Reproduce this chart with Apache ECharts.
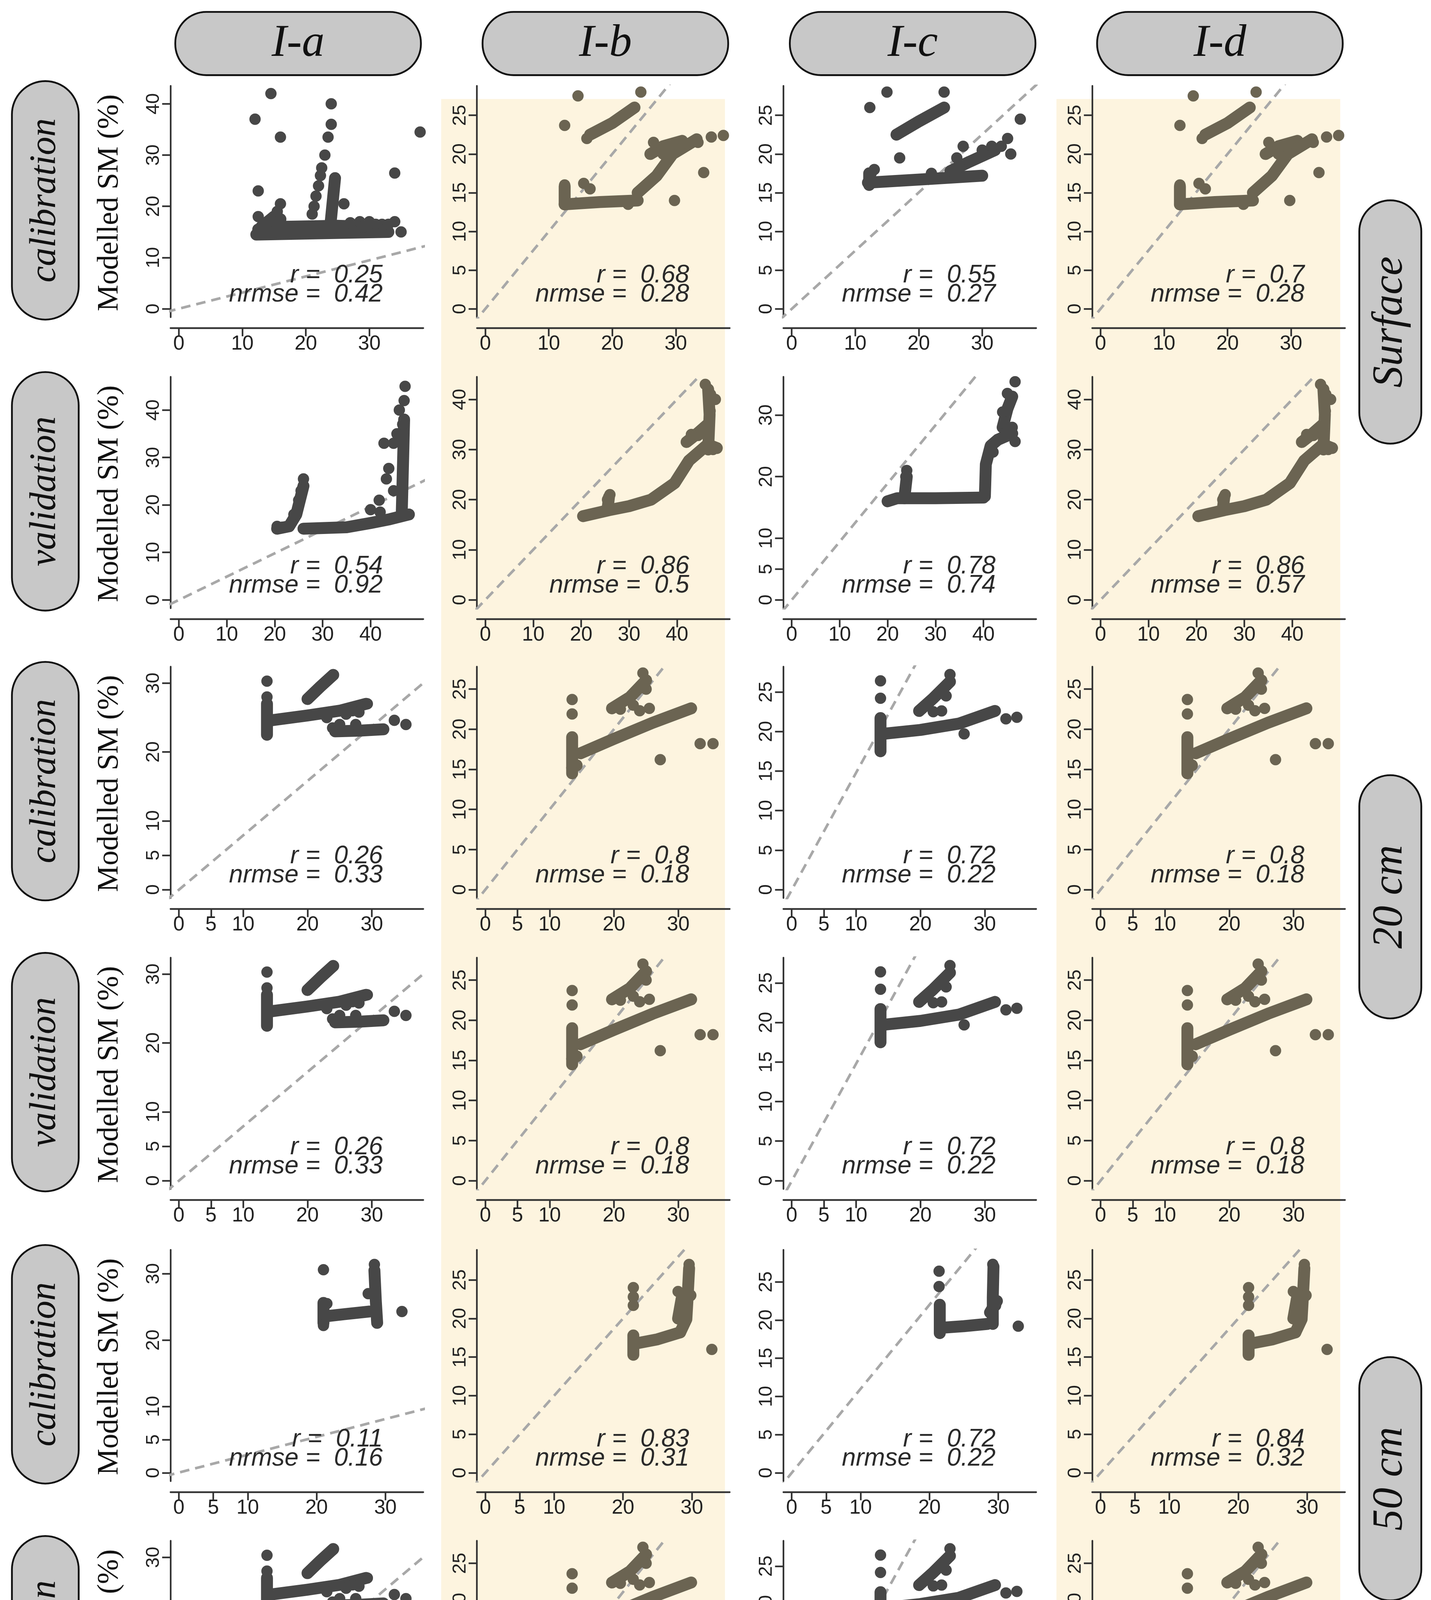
<!DOCTYPE html>
<html>
<head>
<meta charset="utf-8">
<script src="https://cdn.jsdelivr.net/npm/echarts@6/dist/echarts.min.js"></script>
<style>html,body{margin:0;padding:0;background:#fff}#main{width:3664px;height:4784px}</style>
</head>
<body>
<div id="main"></div>
<script>
// scale from the 1200px sketch units to the real canvas
var S = 3.053;

var colNames = ['I-a', 'I-b', 'I-c', 'I-d'];
var rowNames = ['calibration', 'validation', 'calibration', 'validation', 'calibration', 'validation'];
var depthNames = ['Surface', '20 cm', '50 cm'];

// x ticks per row, y ticks per panel
var xTicks = [[0, 10, 20, 30], [0, 10, 20, 30, 40], [0, 5, 10, 20, 30], [0, 5, 10, 20, 30], [0, 5, 10, 20, 30], [0, 5, 10, 20, 30]];
var xMax = [38.5, 51, 38, 38, 35.5, 38];
var yT25 = [0, 5, 10, 15, 20, 25];
var yT30 = [0, 5, 10, 20, 30];
var yT40 = [0, 10, 20, 30, 40];
var yTicks = [
  [yT40, yT25, yT25, yT25],
  [yT40, yT40, [0, 5, 10, 20, 30], yT40],
  [yT30, yT25, yT25, yT25],
  [yT30, yT25, yT25, yT25],
  [yT30, yT25, yT25, yT25],
  [yT30, yT25, yT25, yT25]
];
var yMax = [
  [43.5, 28.8, 28.8, 28.8],
  [47, 44.5, 36.2, 44.5],
  [32.4, 27.8, 28.2, 27.8],
  [32.4, 27.8, 28.2, 27.8],
  [33.6, 28.9, 29.2, 28.9],
  [32.4, 27.8, 28.2, 27.8]
];

var rVals = [['0.25', '0.68', '0.55', '0.7'], ['0.54', '0.86', '0.78', '0.86'], ['0.26', '0.8', '0.72', '0.8'],
             ['0.26', '0.8', '0.72', '0.8'], ['0.11', '0.83', '0.72', '0.84'], ['0.26', '0.8', '0.72', '0.8']];
var nVals = [['0.42', '0.28', '0.27', '0.28'], ['0.92', '0.5', '0.74', '0.57'], ['0.33', '0.18', '0.22', '0.18'],
             ['0.33', '0.18', '0.22', '0.18'], ['0.16', '0.31', '0.22', '0.32'], ['0.33', '0.18', '0.22', '0.18']];

// scattered points and dense streaks, observed vs modelled
var ptsA1 = [[12,37],[14.5,42],[16,33.5],[12.5,23],[12.5,18],[16,20.5],[15.5,19],[24,40],[24,36],[23.5,33.5],[23,30],[22.5,27.5],[22.3,26],[22,24],[21.6,22],[21.3,20],[26,20.5],[21,18.5],[34,26.5],[34,17],[35,15],[38,34.5],[28.5,17],[30,17],[31,16.5],[32,16.5],[33,16.5],[27,16.8],[29,16]];
var strA1 = [[[12.2,14.5],[33,15]],[[12.5,15.5],[16,16],[25,16.2],[30,16]],[[13,16],[15,18],[16,17.5]],[[23.8,15.5],[24.6,25.5]]];
var ptsB1 = [[14.6,27.5],[24.5,28],[12.5,23.7],[16,22],[35.6,22.2],[37.5,22.4],[34.4,17.6],[29.8,14],[22.5,13.5],[12.5,16],[15.5,16.2],[16.5,15.5],[26.5,21.5],[28,20],[31,20.8],[33.5,21.5],[32,21.3]];
var strB1 = [[[16.5,22.5],[20,24],[23.5,26]],[[12.5,13.5],[18,13.8],[24,14]],[[12.5,13.5],[12.5,15.8]],[[24,15],[27,17.2],[29.5,20],[33.3,21.9]],[[26,20],[28,21],[31,21.7]]];
var ptsC1 = [[12.3,26],[15,28],[24,28],[17,19.5],[13,18],[33,21],[34,22],[36,24.5],[34.5,20],[30,20.5],[27,21],[26,19.5],[28,19],[31.5,21],[22,17.5],[12.5,17.5]];
var strC1 = [[[16.5,22.5],[20,24.2],[24,26]],[[12,16.3],[20,16.7],[30,17.2]],[[12.2,16],[12.2,17.5]],[[25,17.8],[28,19],[32,20.5]]];
var ptsA2 = [[20.5,15.5],[21.5,15.3],[24,18],[25,21],[25.5,23],[26,25.5],[47.2,45],[46.7,37],[44.8,33],[42.8,33],[43.8,27.7],[43.3,25.5],[41.8,21],[44.8,23],[46,40],[47,42],[45.5,35],[40,19],[42,18.5]];
var strA2 = [[[20.5,15],[23,15.5],[24.5,18],[26,24]],[[26,15],[35,15.3],[40,16.2],[44,17],[48,18]],[[46.5,18],[46.8,30],[47,38]]];
var ptsB2 = [[45.9,43],[46.9,37.7],[44.4,32.8],[26,21],[25.5,20],[48,40],[47,41],[43,33],[47.5,30]];
var strB2 = [[[20.4,16.7],[25.8,17.9],[30,18.7],[34.6,20],[39.5,23.3],[42.5,27.8],[46.4,31],[48.3,30.3]],[[42,31.5],[44,33],[46.4,35]],[[46.5,30],[46.8,37],[46.5,42]],[[25.5,18],[25.8,20.5]]];
var ptsC2 = [[24,21],[23.8,20],[46.6,35.4],[44,30.5],[46.6,25.7],[45,33.5],[46,28],[42,24],[44.5,27]];
var strC2 = [[[20,16],[22,16.5],[30,16.5],[40,16.6]],[[40.3,16.8],[40.5,22],[41.5,25],[43,26],[46,27]],[[23.5,16.5],[24,20]],[[44,28],[45,31],[46,33]]];
var ptsA3 = [[13.7,30.3],[13.7,28],[13.7,26.5],[24,31.2],[29.3,27],[33.5,24.6],[35.3,24],[23,25],[23.9,23.5],[26,25.5],[27,26],[28,25.8],[27.5,24],[25,24]];
var strA3 = [[[13.7,22.5],[13.7,27]],[[14.3,24.6],[20,25.3],[25,26],[29.1,27]],[[20,27.7],[22,29.5],[24,31.2]],[[24.3,23],[28,23.1],[31.8,23.3]]];
var ptsB3 = [[13.5,23.7],[13.5,21.9],[24,22.3],[25.5,22.6],[27.2,16.2],[33.4,18.2],[35.4,18.2],[24.5,27],[23,23],[21,22.5],[25,25]];
var strB3 = [[[13.5,14.5],[13.5,19]],[[14.8,17],[20,18.8],[26,20.8],[32,22.6]],[[19.7,22.6],[22.5,24],[25,26.1]],[[13.5,15.2],[14.2,15.5]]];
var ptsC3 = [[13.8,26.4],[13.8,24.2],[24.6,27.2],[23.3,22.6],[26.8,19.7],[33.3,21.6],[35,21.8],[22,22.5],[24,24.5]];
var strC3 = [[[13.8,17.5],[13.8,21.7]],[[14.1,19.7],[20,20.2],[26,21],[31.6,22.6]],[[19.8,22.6],[22,24.2],[24.6,26.3]]];
var ptsA5 = [[21,30.6],[27.5,27],[32.4,24.3],[28.4,31.4],[21,22.2],[28.8,22.6],[21.5,25.5]];
var strA5 = [[[21,22.6],[21,25.6]],[[21.4,23.6],[24,23.9],[27.6,24.3]],[[28.4,30.5],[28.6,26],[28.8,22.6]]];
var ptsB5 = [[21.5,24],[21.5,22.8],[21.5,21.7],[32.9,16],[29.6,27],[28,23.5]];
var strB5 = [[[21.5,15.3],[21.5,17.8]],[[22.1,16.8],[25,17.3],[28.3,18.2]],[[28.3,18.2],[29.2,19.9],[29.4,23],[29.6,26.5]],[[28,20],[28.5,22.5],[29.8,23]]];
var ptsC5 = [[21.4,26.4],[21.4,24.4],[32.9,19.2],[29.2,27.3],[29.6,21.9]];
var strC5 = [[[21.5,18.3],[21.5,22]],[[21.8,19],[25,19.2],[28.4,19.5]],[[29.2,19.5],[29.2,23],[29.3,27]],[[28.8,21],[29.8,22.5]]];

// reference lines (as drawn in each panel)
var refA1 = [[-2,-0.6],[45,14.2]];
var refA2 = [[-2,-1],[55,27]];
var refA3 = [[-2,-1.6],[40,31.6]];
var refA5 = [[-2,-0.5],[40,10.8]];
var ref11 = [[-2,-2],[60,60]];
var refC1 = [[-2,-1.5],[45,33.8]];
var refC2 = [[-2,-1.9],[55,52]];
var refC3 = [[-2,-3],[30,44.4]];
var refC5 = [[-2,-2.2],[40,44]];

var rowA = {pts: ptsA3, str: strA3, ref: refA3}, rowB = {pts: ptsB3, str: strB3, ref: ref11}, rowC = {pts: ptsC3, str: strC3, ref: refC3};
var panels = [
  [{pts: ptsA1, str: strA1, ref: refA1}, {pts: ptsB1, str: strB1, ref: ref11}, {pts: ptsC1, str: strC1, ref: refC1}, {pts: ptsB1, str: strB1, ref: ref11}],
  [{pts: ptsA2, str: strA2, ref: refA2}, {pts: ptsB2, str: strB2, ref: ref11}, {pts: ptsC2, str: strC2, ref: refC2}, {pts: ptsB2, str: strB2, ref: ref11}],
  [rowA, rowB, rowC, rowB],
  [rowA, rowB, rowC, rowB],
  [{pts: ptsA5, str: strA5, ref: refA5}, {pts: ptsB5, str: strB5, ref: ref11}, {pts: ptsC5, str: strC5, ref: refC5}, {pts: ptsB5, str: strB5, ref: ref11}],
  [rowA, rowB, rowC, rowB]
];

var colX = [143, 400, 657, 916];
var rowZero = [259, 503, 746, 990, 1235, 1479];
var dotColor = ['#474747', '#6b6452', '#474747', '#6b6452'];

var grid = [], xAxis = [], yAxis = [], series = [], graphic = [];
var axisCol = '#333';

// cream backgrounds for the I-b and I-d columns
[370, 886].forEach(function(x) {
  graphic.push({type: 'rect', z: -10, shape: {x: x * S, y: 83 * S, width: 238 * S, height: 1480 * S}, style: {fill: '#fdf4df'}});
});

for (var r = 0; r < 6; r++) {
  for (var c = 0; c < 4; c++) {
    var i = r * 4 + c;
    var zero = rowZero[r];
    var xm = xMax[r], ym = yMax[r][c];
    var xppu = 205 / xm, yppu = 187 / ym;
    grid.push({left: colX[c] * S, top: (zero - 187) * S, width: 212 * S, height: 194 * S});
    xAxis.push({
      type: 'value', gridIndex: i, min: -7 / xppu, max: xm, position: 'bottom', offset: 9 * S,
      axisLine: {show: true, onZero: false, lineStyle: {color: axisCol, width: 1.4 * S}},
      axisTick: {show: true, length: 7 * S, customValues: xTicks[r], lineStyle: {color: axisCol, width: 1.4 * S}},
      axisLabel: {customValues: xTicks[r], fontSize: 17 * S, color: '#222', margin: 5 * S, fontFamily: 'Liberation Sans'},
      splitLine: {show: false}
    });
    yAxis.push({
      type: 'value', gridIndex: i, min: -7 / yppu, max: ym, position: 'left',
      axisLine: {show: true, onZero: false, lineStyle: {color: axisCol, width: 1.4 * S}},
      axisTick: {show: true, length: 7 * S, customValues: yTicks[r][c], lineStyle: {color: axisCol, width: 1.4 * S}},
      axisLabel: {customValues: yTicks[r][c], fontSize: 16 * S, color: '#222', margin: 6 * S, rotate: 90, fontFamily: 'Liberation Sans'},
      splitLine: {show: false}
    });
    var p = panels[r][c];
    series.push({type: 'line', xAxisIndex: i, yAxisIndex: i, data: p.ref, symbol: 'none', z: 1, silent: true,
      lineStyle: {color: '#a8a8a8', width: 2.2 * S, type: [8 * S, 5 * S]}});
    p.str.forEach(function(s) {
      series.push({type: 'line', xAxisIndex: i, yAxisIndex: i, data: s, symbol: 'none', z: 2, silent: true,
        lineStyle: {color: dotColor[c], width: 10 * S, cap: 'round', join: 'round'}});
    });
    series.push({type: 'scatter', xAxisIndex: i, yAxisIndex: i, data: p.pts, symbolSize: 9.5 * S, z: 3, silent: true,
      itemStyle: {color: dotColor[c], opacity: 1}});
    // stats
    var tx = (colX[c] + 178) * S;
    graphic.push({type: 'text', z: 10, x: tx, y: (zero - 28) * S, style: {text: 'r =  ' + rVals[r][c], fontSize: 21 * S, fontStyle: 'italic', fontFamily: 'Liberation Sans', fill: '#2a2a2a', align: 'right', verticalAlign: 'middle'}});
    graphic.push({type: 'text', z: 10, x: tx, y: (zero - 12) * S, style: {text: 'nrmse =  ' + nVals[r][c], fontSize: 21 * S, fontStyle: 'italic', fontFamily: 'Liberation Sans', fill: '#2a2a2a', align: 'right', verticalAlign: 'middle'}});
  }
  // row label pill + y axis name
  var cy = rowZero[r] - 91;
  graphic.push({type: 'rect', z: 5, shape: {x: 10 * S, y: (cy - 100) * S, width: 56 * S, height: 200 * S, r: 28 * S}, style: {fill: '#c8c8c8', stroke: '#111', lineWidth: 1.5 * S}});
  graphic.push({type: 'text', z: 6, x: 38 * S, y: cy * S, rotation: Math.PI / 2, style: {text: rowNames[r], fontSize: 31 * S, fontStyle: 'italic', fontFamily: 'Liberation Serif', fill: '#111', align: 'center', verticalAlign: 'middle'}});
  graphic.push({type: 'text', z: 6, x: 92 * S, y: (cy + 2) * S, rotation: Math.PI / 2, style: {text: 'Modelled SM (%)', fontSize: 25 * S, fontFamily: 'Liberation Serif', fill: '#111', align: 'center', verticalAlign: 'middle'}});
}

// column headers and bottom axis names
for (var c2 = 0; c2 < 4; c2++) {
  var cx = 250 + 257.7 * c2;
  graphic.push({type: 'rect', z: 5, shape: {x: (cx - 103) * S, y: 10 * S, width: 206 * S, height: 53 * S, r: 26 * S}, style: {fill: '#c8c8c8', stroke: '#111', lineWidth: 1.5 * S}});
  graphic.push({type: 'text', z: 6, x: cx * S, y: 37 * S, style: {text: colNames[c2], fontSize: 38 * S, fontStyle: 'italic', fontFamily: 'Liberation Serif', fill: '#111', align: 'center', verticalAlign: 'middle'}});
  graphic.push({type: 'text', z: 6, x: (cx + 3) * S, y: 1532 * S, style: {text: 'Observed SM (%)', fontSize: 25 * S, fontFamily: 'Liberation Serif', fill: '#111', align: 'center', verticalAlign: 'middle'}});
}

// depth pills on the right
var depthCy = [270, 752, 1240];
for (var d = 0; d < 3; d++) {
  graphic.push({type: 'rect', z: 5, shape: {x: 1140 * S, y: (depthCy[d] - 102) * S, width: 52 * S, height: 204 * S, r: 26 * S}, style: {fill: '#c8c8c8', stroke: '#111', lineWidth: 1.5 * S}});
  graphic.push({type: 'text', z: 6, x: 1166 * S, y: depthCy[d] * S, rotation: Math.PI / 2, style: {text: depthNames[d], fontSize: 36 * S, fontStyle: 'italic', fontFamily: 'Liberation Serif', fill: '#111', align: 'center', verticalAlign: 'middle'}});
}

var chart = echarts.init(document.getElementById('main'));
chart.setOption({
  animation: false,
  backgroundColor: '#ffffff',
  grid: grid,
  xAxis: xAxis,
  yAxis: yAxis,
  series: series,
  graphic: graphic
});
</script>
</body>
</html>
